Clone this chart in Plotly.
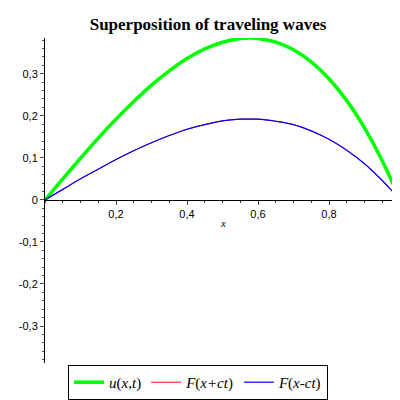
import plotly.graph_objects as go

# values
x_vals = [0, 0.05, 0.1, 0.15, 0.2, 0.25, 0.3, 0.35, 0.4, 0.45, 0.5, 0.55, 0.577,
          0.6, 0.65, 0.7, 0.75, 0.8, 0.85, 0.9, 0.95, 1.0]
u_vals = [0, 0.050, 0.099, 0.147, 0.192, 0.234, 0.273, 0.307, 0.336, 0.359, 0.375,
          0.384, 0.385, 0.384, 0.375, 0.357, 0.328, 0.288, 0.236, 0.171, 0.093, 0]
f_vals = [0, 0.025, 0.050, 0.073, 0.096, 0.117, 0.136, 0.153, 0.168, 0.179, 0.188,
          0.192, 0.192, 0.192, 0.187, 0.179, 0.164, 0.144, 0.118, 0.086, 0.046, 0]

x_ticks = [0.2, 0.4, 0.6, 0.8, 1.0]
x_labels = ["0,2", "0,4", "0,6", "0,8", "1"]
y_ticks = [-0.3, -0.2, -0.1, 0, 0.1, 0.2, 0.3]
y_labels = ["-0,3", "-0,2", "-0,1", "0", "0,1", "0,2", "0,3"]

ymin, ymax = -0.388, 0.385

fig = go.Figure()
fig.add_trace(go.Scatter(x=x_vals, y=u_vals, mode="lines", line=dict(color="#00ff00", width=3.5, shape="spline"),
                         name="<i>u</i>(<i>x,t</i>)"))
fig.add_trace(go.Scatter(x=x_vals, y=f_vals, mode="lines", line=dict(color="red", width=1, shape="spline"),
                         name="<i>F</i>(<i>x+ct</i>)"))
fig.add_trace(go.Scatter(x=x_vals, y=f_vals, mode="lines", line=dict(color="blue", width=1.2, shape="spline"),
                         name="<i>F</i>(<i>x-ct</i>)"))

fig.update_layout(
    width=400, height=400, margin=dict(l=37, r=8, t=30, b=35),
    plot_bgcolor="white", paper_bgcolor="white",
    font=dict(family="Liberation Sans", size=11, color="black"),
    title=dict(text="<b>Superposition of traveling waves</b>", x=0.5, y=0.975, yanchor="top",
               font=dict(family="Liberation Serif", size=17)),
    xaxis=dict(range=[0, 1.0], tickvals=x_ticks, ticktext=x_labels, showgrid=False,
               zeroline=False, showline=True, linecolor="black", ticks="outside", ticklen=4,
               anchor="free", position=-ymin / (ymax - ymin), automargin=False,
               minor=dict(ticks="outside", ticklen=2, dtick=0.05)),
    yaxis=dict(range=[ymin, ymax], tickvals=y_ticks, ticktext=y_labels, showgrid=False,
               zeroline=False, showline=True, linecolor="black", ticks="outside", ticklen=4,
               automargin=False, minor=dict(ticks="outside", ticklen=2, dtick=0.02)),
    legend=dict(orientation="h", x=0.065, y=-0.006, xanchor="left", yanchor="top",
                bordercolor="black", borderwidth=1, font=dict(family="Liberation Serif", size=15),
                itemwidth=30, tracegroupgap=0),
    annotations=[dict(text="<i>x</i>", x=0.5, y=-0.035, xref="x", yref="y", showarrow=False,
                      yanchor="top", font=dict(family="Liberation Serif", size=11))],
)

fig.write_html("out.html", config={"displayModeBar": False})
